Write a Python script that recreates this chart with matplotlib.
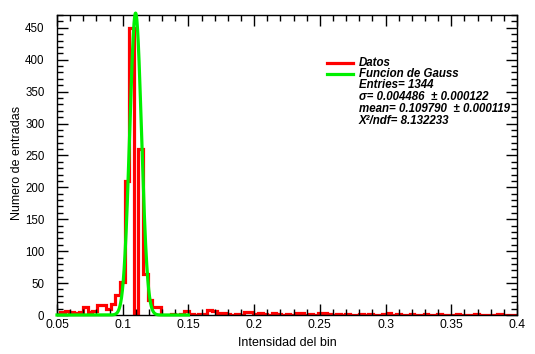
import numpy as np
import matplotlib
matplotlib.use("Agg")
import matplotlib.pyplot as plt
from matplotlib.ticker import MultipleLocator, FixedLocator, FixedFormatter

plt.rcParams['font.family'] = ['Liberation Sans', 'DejaVu Sans']

# ---- data ----
bin_width = 0.0035
first_edge = 0.049
counts = [2, 5, 6, 4, 3, 4, 12, 4, 6, 16,
          15, 10, 17, 32, 52, 210, 450, 0, 260, 65,
          24, 13, 13, 0, 0, 1, 0, 2, 7, 1,
          0, 1, 1, 8, 6, 3, 3, 1, 0, 1,
          0, 5, 5, 2, 3, 1, 0, 3, 1, 0,
          1, 0, 3, 3, 0, 1, 0, 3, 3, 2,
          0, 1, 0, 1, 0, 0, 1, 0, 1, 0,
          0, 2, 3, 0, 1, 0, 0, 1, 0, 0,
          1, 0, 0, 1, 0, 0, 0, 1, 0, 0,
          0, 1, 0, 0, 0, 0, 1, 0, 0, 0,
          0]
gauss_amp = 473.0
gauss_mean = 0.109790
gauss_sigma = 0.004486
fit_range = (0.05, 0.15)

x_ticks = [0.05, 0.1, 0.15, 0.2, 0.25, 0.3, 0.35, 0.4]
x_ticklabels = ["0.05", "0.1", "0.15", "0.2", "0.25", "0.3", "0.35", "0.4"]
y_ticks = [0, 50, 100, 150, 200, 250, 300, 350, 400, 450]
y_ticklabels = [str(v) for v in y_ticks]

legend_lines = ["Datos", "Funcion de Gauss", "Entries= 1344",
                "σ= 0.004486  ± 0.000122", "mean= 0.109790  ± 0.000119",
                "Χ²/ndf= 8.132233"]

# ---- figure ----
W, H = 535, 354
fig = plt.figure(figsize=(W / 100, H / 100), dpi=100)
ax = fig.add_axes([57 / W, 1 - 315 / H, (517 - 57) / W, (315 - 15) / H])

edges = first_edge + bin_width * np.arange(len(counts) + 1)
ax.stairs(counts, edges, color='#ff0000', lw=2.3, baseline=0)

xg = np.linspace(fit_range[0], fit_range[1], 600)
yg = gauss_amp * np.exp(-0.5 * ((xg - gauss_mean) / gauss_sigma) ** 2)
ax.plot(xg, yg, color='#00f000', lw=2.3, clip_on=False, zorder=3)

ax.set_xlim(0.05, 0.4)
ax.set_ylim(0, 470)

ax.xaxis.set_major_locator(FixedLocator(x_ticks))
ax.xaxis.set_major_formatter(FixedFormatter(x_ticklabels))
ax.xaxis.set_minor_locator(MultipleLocator(0.01))
ax.yaxis.set_major_locator(FixedLocator(y_ticks))
ax.yaxis.set_major_formatter(FixedFormatter(y_ticklabels))
ax.yaxis.set_minor_locator(MultipleLocator(10))

ax.tick_params(which='both', direction='in', top=True, right=True,
               width=1, labelsize=8.7)
ax.tick_params(axis='y', labelsize=8.3)
ax.tick_params(which='major', length=8)
ax.tick_params(which='minor', length=4)
ax.tick_params(axis='x', pad=3)
ax.tick_params(axis='y', pad=9)
for s in ax.spines.values():
    s.set_linewidth(1)

ax.set_xlabel("Intensidad del bin", fontsize=9, labelpad=2)
ax.xaxis.set_label_coords((287 - 57) / (517 - 57), -0.075)
ax.set_ylabel("Numero de entradas", fontsize=9)
ax.yaxis.set_label_coords(-(57 - 23) / (517 - 57), (315 - 163) / 300)

# legend / stats block
line_y = [63, 74]
line_cols = ['#ff0000', '#00f000']
for yy, c in zip(line_y, line_cols):
    fig.add_artist(plt.Line2D([327 / W, 353 / W], [1 - yy / H, 1 - yy / H],
                              color=c, lw=2.3))
text_y = [63, 74, 85, 97.5, 109, 120.5]
for yy, t in zip(text_y, legend_lines):
    fig.text(359 / W, 1 - yy / H, t, fontsize=8.3, fontweight='bold',
             fontstyle='italic', va='center', ha='left')

fig.savefig("out.png", dpi=100)
